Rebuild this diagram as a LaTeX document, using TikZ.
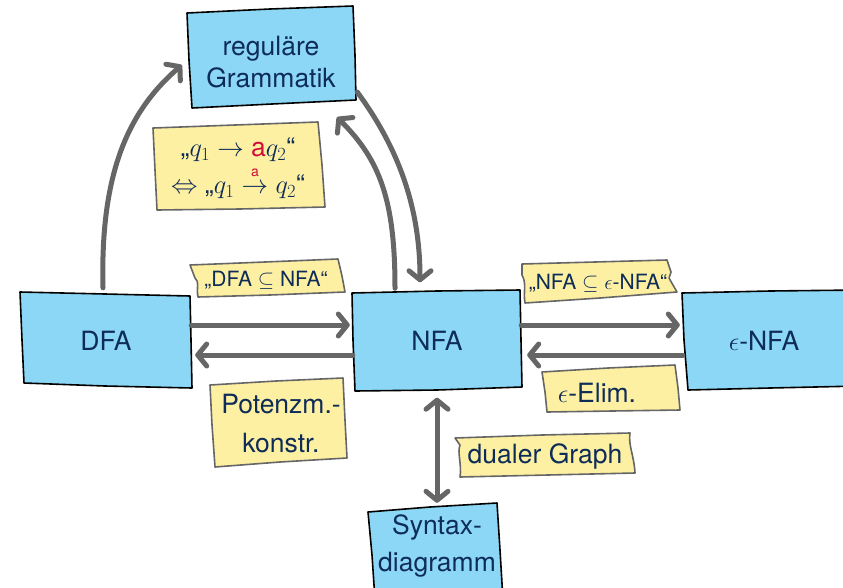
\RequirePackage{fix-cm}
\documentclass[tikz,border=0pt]{standalone}
\usepackage{fontspec}
\setmainfont{TeX Gyre Heros}
\usetikzlibrary{arrows.meta}
\definecolor{boxblue}{HTML}{8DD7F6}
\definecolor{noteyellow}{HTML}{FDF0A2}
\definecolor{txt}{HTML}{0E2C58}
\definecolor{arr}{HTML}{666666}
\definecolor{rd}{HTML}{D0103A}
\newcommand{\reda}{\mbox{\color{rd}a}}
\newcommand{\smallreda}{\raisebox{5pt}{\fontsize{14}{14}\selectfont\color{rd}a}}
\begin{document}
\begin{tikzpicture}[x=1pt,y=-1pt,
  every node/.style={font=\fontsize{26.5}{32}\selectfont, text=txt},
  lbl/.style={inner sep=0pt, align=center},
  bluebox/.style={fill=boxblue, draw=black, line width=1.6pt, line join=round},
  notebox/.style={fill=noteyellow, draw=arr, line width=1.6pt, line join=round},
  conn/.style={draw=arr, line width=5pt, line cap=round, -{Straight Barb[length=9pt,width=22pt,round]}},
  dconn/.style={draw=arr, line width=5pt, line cap=round, {Straight Barb[length=9pt,width=22pt,round]}-{Straight Barb[length=9pt,width=22pt,round]}}
]
\clip (0,0) rectangle (843,587);

% blue boxes
\path[bluebox] (187,13) -- (270,9) -- (353,6) -- (355,55) -- (356,100) -- (272,104) -- (192,108) -- (189,60) -- cycle;
\path[bluebox] (20,292) -- (105,294) -- (190,296) -- (191,340) -- (192,388) -- (105,386) -- (24,383) -- (22,340) -- cycle;
\path[bluebox] (352,293) -- (437,291) -- (520,290) -- (521,340) -- (522,387) -- (437,390) -- (355,391) -- (353,340) -- cycle;
\path[bluebox] (682,293) -- (770,291) -- (860,290) -- (860,386) -- (770,388) -- (688,390) -- (684,340) -- cycle;
\path[bluebox] (368,512) -- (430,507) -- (497,503) -- (500,550) -- (503,600) -- (375,600) -- (372,555) -- cycle;

% yellow notes
\path[notebox] (153,128) -- (235,125) -- (318,122) -- (322,165) -- (325,207) -- (240,209) -- (157,210) -- (155,170) -- cycle;
\path[notebox] (190,265) -- (265,262) -- (338,259) -- (342,276) -- (345,292) -- (270,295) -- (198,297) .. controls (196,288) and (200,282) .. (195,278) -- cycle;
\path[notebox] (522,264) -- (595,262) -- (667,260) -- (671,272) -- (669,278) -- (677,292) -- (600,298) -- (525,303) .. controls (523,292) and (527,284) .. (522,275) -- cycle;
\path[notebox] (210,385) -- (276,381) -- (343,378) -- (345,420) -- (347,458) -- (280,462) -- (215,467) -- (212,425) -- cycle;
\path[notebox] (542,372) -- (608,368) -- (675,365) -- (678,388) -- (680,410) -- (612,411) -- (547,412) -- (545,392) -- cycle;
\path[notebox] (455,438) -- (542,435) -- (630,433) .. controls (628,445) and (634,455) .. (635,473) -- (548,475) -- (460,477) .. controls (462,465) and (457,452) .. (460,445) -- cycle;

% nodes
\node[lbl, minimum width=168pt, minimum height=95pt] (rg) at (271,62) {reguläre\\Grammatik};
\node[lbl, minimum width=170pt, minimum height=92pt] (dfa) at (106,341) {DFA};
\node[lbl, minimum width=168pt, minimum height=97pt] (nfa) at (437,341) {NFA};
\node[lbl, minimum width=162pt, minimum height=96pt] (enfa) at (764,341) {$\epsilon$-NFA};
\node[lbl, minimum width=130pt, minimum height=80pt] (syn) at (437,546) {Syntax-\\[5pt]diagramm};

\node[lbl] (qnote) at (238,168) {„$q_1 \to \reda q_2$“\\[5pt]$\Leftrightarrow$ „$q_1 \stackrel{\smallreda}{\to} q_2$“};
\node[lbl, font=\fontsize{21}{25}\selectfont] (subA) at (266,280) {„DFA $\subseteq$ NFA“};
\node[lbl, font=\fontsize{21}{25}\selectfont] (subB) at (598,283) {„NFA $\subseteq$ $\epsilon$-NFA“};
\node[lbl] (pot) at (281,424) {Potenzm.-\\[7pt]konstr.};
\node[lbl] (elim) at (597,393) {$\epsilon$-Elim.};
\node[lbl] (dual) at (545,456) {dualer Graph};

% connectors
\draw[conn] ([yshift=16pt]dfa.east) -- ([xshift=-3pt,yshift=16pt]nfa.west);
\draw[conn] ([yshift=-14pt]nfa.west) -- ([xshift=4pt,yshift=-14pt]dfa.east);
\draw[conn] ([yshift=16pt]nfa.east) -- ([xshift=-3pt,yshift=16pt]enfa.west);
\draw[conn] ([yshift=-14pt]enfa.west) -- ([xshift=6pt,yshift=-14pt]nfa.east);
\draw[conn] ([xshift=-3pt,yshift=7pt]dfa.north) .. controls (100,170) and (130,110) .. ([xshift=-5pt,yshift=-3pt]rg.west);
\draw[conn] ([xshift=-42pt,yshift=4pt]nfa.north) .. controls (395,200) and (380,160) .. ([xshift=66pt,yshift=-7.5pt]rg.south);
\draw[conn] ([xshift=2pt,yshift=-30pt]rg.east) .. controls (400,150) and (420,210) .. ([xshift=-17pt,yshift=10pt]nfa.north);
\draw[dconn] ([yshift=-8pt]nfa.south) -- ([yshift=3pt]syn.north);
\end{tikzpicture}
\end{document}
